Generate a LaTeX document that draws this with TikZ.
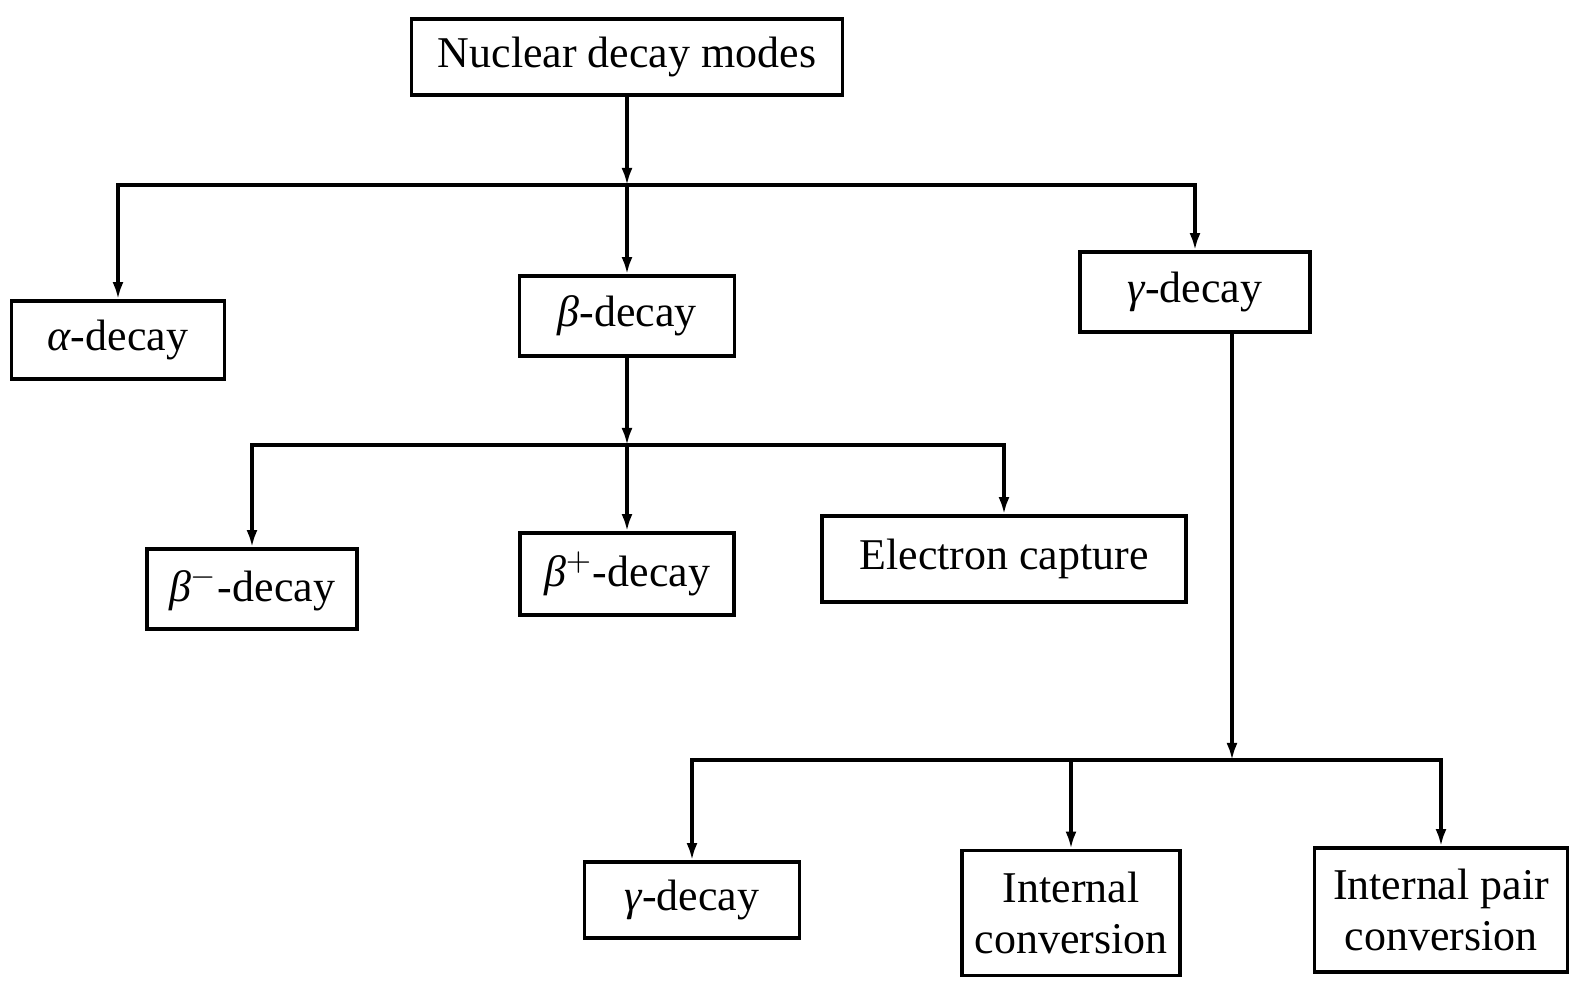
\documentclass[tikz,border=0pt]{standalone}
\usepackage{fontspec}
\setmainfont{Liberation Serif}
\usetikzlibrary{arrows.meta}

\tikzset{
  box/.style={draw,line width=1.1pt,inner sep=2pt,align=center,
              font=\fontsize{12.5}{14.5}\selectfont},
  link/.style={line width=.9pt,-{Latex[length=1.7mm,width=1.1mm]}},
  bar/.style={line width=.9pt}
}

\begin{document}
\begin{tikzpicture}
  \useasboundingbox (0,0) rectangle (15.75,9.81);
  % top level
  \node[box,minimum width=4.31cm,minimum height=.76cm] (modes) at (6.27,9.24) {Nuclear decay modes};
  \node[box,minimum width=2.13cm,minimum height=.78cm] (alpha) at (1.18,6.41) {{\itshape α}-decay};
  \node[box,minimum width=2.15cm,minimum height=.80cm] (beta) at (6.27,6.65) {{\itshape β}-decay};
  \node[box,minimum width=2.30cm,minimum height=.80cm] (gamma) at (11.95,6.89) {{\itshape γ}-decay};
  % beta branch
  \node[box,minimum width=2.10cm,minimum height=.80cm] (bminus) at (2.52,3.92) {{\itshape β}$^{-}$-decay};
  \node[box,minimum width=2.14cm,minimum height=.82cm] (bplus) at (6.27,4.07) {{\itshape β}$^{+}$-decay};
  \node[box,minimum width=3.64cm,minimum height=.86cm] (capture) at (10.04,4.22) {Electron capture};
  % gamma branch
  \node[box,minimum width=2.15cm,minimum height=.76cm] (gdecay) at (6.92,.81) {{\itshape γ}-decay};
  \node[box,minimum width=2.18cm,minimum height=1.25cm] (intconv) at (10.71,.68) {Internal\\conversion};
  \node[box,minimum width=2.53cm,minimum height=1.24cm] (pairconv) at (14.41,.71) {Internal pair\\conversion};
  %
  \coordinate (j1) at (6.27,7.96);
  \coordinate (j2) at (6.27,5.36);
  \coordinate (j3) at (12.32,2.21);
  %
  \draw[link] (modes) -- (j1);
  \draw[link] (j1) -| (alpha);
  \draw[link] (j1) -- (beta);
  \draw[link] (j1) -| (gamma);
  %
  \draw[link] (beta) -- (j2);
  \draw[link] (j2) -| (bminus);
  \draw[link] (j2) -- (bplus);
  \draw[link] (j2) -| (capture);
  %
  \draw[link] (gamma.south -| j3) -- (j3);
  \draw[link] (j3) -| (gdecay);
  \draw[link] (j3) -| (intconv);
  \draw[link] (j3) -| (pairconv);
\end{tikzpicture}
\end{document}
